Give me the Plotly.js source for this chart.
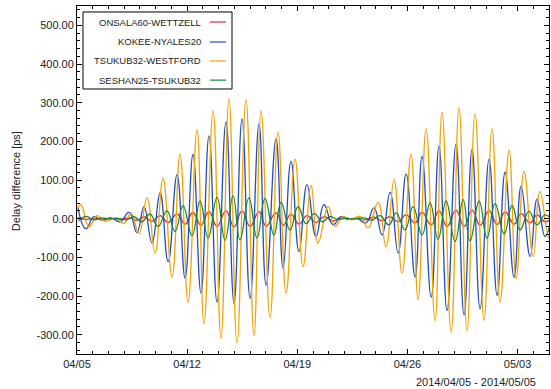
<!DOCTYPE html>
<html>
<head>
<meta charset="utf-8">
<script src="https://cdn.plot.ly/plotly-3.0.1.min.js"></script>
<style>html,body{margin:0;padding:0;background:#fff;}#chart{width:551px;height:389px;}</style>
</head>
<body>
<div id="chart"></div>
<script>
// ---- data (days since 2014-04-05 00:00, delay difference in ps; at the extremes) ----
const seriesNames = ["ONSALA60-WETTZELL", "KOKEE-NYALES20", "TSUKUB32-WESTFORD", "SESHAN25-TSUKUB32"];

const redDays = [0.06,0.57,1.08,1.59,2.16,2.73,3.31,3.81,4.26,4.77,5.28,5.79,6.36,6.87,7.37,7.88,8.39,8.90,9.47,9.98,10.49,11.00,11.57,12.02,12.65,13.10,13.60,14.11,14.62,15.19,15.70,16.27,16.78,17.29,17.80,18.37,18.88,19.39,19.90,20.41,20.92,21.49,21.93,22.51,23.01,23.52,24.09,24.60,25.11,25.62,26.19,26.70,27.21,27.78,28.23,28.80,29.24,29.75,30.26];
const redVals = [2,-2,1,-1,1,-2,2,-4,5,-7,8,-10,12,-14,16,-17,18,-20,20,-21,20,-20,18,-19,15,-17,11,-14,8,-10,5,-6,3,-2,2,-3,4,-5,5,-8,10,-11,17,-16,20,-20,22,-20,22,-17,21,-15,17,-14,13,-11,10,-8,6];

const blueDays = [0.06,0.57,1.08,1.59,2.16,2.73,3.31,3.81,4.26,4.77,5.28,5.79,6.36,6.87,7.37,7.88,8.39,8.90,9.47,9.98,10.49,11.00,11.57,12.02,12.65,13.10,13.60,14.11,14.62,15.19,15.70,16.27,16.78,17.29,17.80,18.37,18.88,19.39,19.90,20.41,20.92,21.49,21.93,22.51,23.01,23.52,24.09,24.60,25.11,25.62,26.19,26.70,27.21,27.78,28.23,28.80,29.24,29.75,30.26];
const blueVals = [28,-26,5,-4,2,-8,16,-36,31,-63,67,-111,114,-154,166,-192,214,-216,250,-219,258,-206,245,-172,206,-128,148,-85,88,-46,36,-16,5,-2,1,-11,28,-42,68,-89,115,-151,161,-203,188,-238,193,-249,180,-233,154,-198,120,-151,84,-98,50,-46,30];

const orangeDays = [0.00,0.25,0.76,1.27,1.78,2.42,2.99,3.43,3.94,4.45,4.96,5.47,6.04,6.55,7.06,7.63,8.07,8.65,9.15,9.66,10.17,10.74,11.25,11.70,12.27,12.78,13.29,13.86,14.37,14.88,15.32,15.96,16.40,16.91,17.42,17.99,18.50,19.14,19.64,20.15,20.66,21.23,21.68,22.19,22.76,23.20,23.78,24.28,24.79,25.30,25.87,26.38,26.89,27.46,27.91,28.42,28.99,29.43,30.01,30.45];
const orangeVals = [23,36,-22,8,-7,2,-12,14,-38,54,-89,104,-151,167,-216,230,-272,279,-310,310,-322,308,-303,279,-257,224,-193,154,-124,86,-63,31,-20,5,-3,6,-24,42,-73,101,-141,167,-209,232,-264,276,-294,288,-290,271,-263,232,-216,177,-155,122,-98,70,-50,30];

const greenDays = [0.06,0.57,1.08,1.59,2.10,2.61,3.12,3.62,4.13,4.64,5.15,5.72,6.23,6.74,7.31,7.82,8.33,8.90,9.41,9.92,10.36,10.93,11.44,11.95,12.52,12.97,13.54,14.05,14.56,15.07,15.58,16.08,16.59,17.10,17.67,18.25,18.75,19.26,19.83,20.28,20.85,21.36,21.93,22.44,22.95,23.46,24.03,24.54,24.98,25.56,26.06,26.57,27.15,27.65,28.16,28.73,29.24,29.75,30.26];
const greenVals = [-7,6,-3,2,-1,1,-3,5,-8,12,-20,20,-33,33,-44,45,-50,55,-56,59,-55,54,-50,52,-42,42,-29,31,-13,13,-8,5,-2,1,-1,2,-4,8,-16,15,-29,31,-42,41,-53,45,-59,49,-57,45,-50,39,-39,34,-29,19,-16,10,-8];

const xTickDays = [0, 7, 14, 21, 28];
const xTickLabels = ["04/05", "04/12", "04/19", "04/26", "05/03"];
const yTickVals = [-300, -200, -100, 0, 100, 200, 300, 400, 500];
const yTickLabels = ["-300.00", "-200.00", "-100.00", "0.00", "100.00", "200.00", "300.00", "400.00", "500.00"];
const periodText = "2014/04/05 - 2014/05/05";
const yTitle = "Delay difference [ps]";

// ---- styles ----
const seriesColors = ["#e3262b", "#1f4fc6", "#f5a300", "#178a3a"];
const FONT = "Liberation Sans, Arial, Helvetica, sans-serif";
const TXT = "#222";

const base = Date.UTC(2014, 3, 5);
const DAY = 864e5;
const toMs = arr => arr.map(d => base + d * DAY);

const allDays = [redDays, blueDays, orangeDays, greenDays];
const allVals = [redVals, blueVals, orangeVals, greenVals];

const traces = seriesNames.map((name, i) => ({
  type: "scatter", mode: "lines", name: name,
  x: toMs(allDays[i]), y: allVals[i],
  line: {color: seriesColors[i], width: 1.3, shape: "spline", smoothing: 1.3},
  showlegend: false, hoverinfo: "skip"
}));

// custom legend (text left, sample line right), in paper coordinates
const legX0 = 0.0127, legX1 = 0.3284, legY0 = 0.7615, legY1 = 0.9828;
const legTextX = 0.267, legLineX0 = 0.2818, legLineX1 = 0.3157;
const legRows = [0.954, 0.8966, 0.842, 0.787];

const shapes = [{type: "rect", xref: "paper", yref: "paper", x0: legX0, x1: legX1, y0: legY0, y1: legY1,
  line: {color: "#000", width: 1}, fillcolor: "#fff", layer: "above"}];
const annotations = [];
seriesNames.forEach((name, i) => {
  shapes.push({type: "line", xref: "paper", yref: "paper", x0: legLineX0, x1: legLineX1, y0: legRows[i], y1: legRows[i],
    line: {color: seriesColors[i], width: 1.2}, layer: "above"});
  annotations.push({xref: "paper", yref: "paper", x: legTextX, y: legRows[i], xanchor: "right", yanchor: "middle",
    text: name, showarrow: false, font: {family: FONT, size: 9.5, color: TXT}});
});
annotations.push({xref: "paper", yref: "paper", x: 0.977, y: -0.0805, xanchor: "right", yanchor: "middle",
  text: periodText, showarrow: false, font: {family: FONT, size: 11, color: TXT}});
annotations.push({xref: "paper", yref: "paper", x: -0.129, y: 0.497, xanchor: "center", yanchor: "middle",
  textangle: -90, text: yTitle, showarrow: false, font: {family: FONT, size: 11, color: TXT}});

const layout = {
  width: 551, height: 389,
  margin: {l: 77, r: 2, t: 6, b: 35},
  paper_bgcolor: "#fff", plot_bgcolor: "#fff",
  font: {family: FONT, size: 11, color: TXT},
  showlegend: false,
  xaxis: {
    type: "date", range: [base, base + 30 * DAY],
    tickmode: "array", tickvals: toMs(xTickDays), ticktext: xTickLabels,
    ticks: "inside", ticklen: 5, tickwidth: 1, tickcolor: "#000",
    minor: {ticks: "inside", ticklen: 3, tickwidth: 1, tickcolor: "#000", dtick: DAY, tick0: base, showgrid: false},
    showline: true, linecolor: "#000", linewidth: 1, mirror: "allticks",
    showgrid: false, zeroline: false,
    tickfont: {family: FONT, size: 11, color: TXT}
  },
  yaxis: {
    range: [-350, 550],
    tickmode: "array", tickvals: yTickVals, ticktext: yTickLabels,
    ticks: "inside", ticklen: 5, tickwidth: 1, tickcolor: "#000",
    minor: {ticks: "inside", ticklen: 3, tickwidth: 1, tickcolor: "#000", dtick: 20, tick0: 0, showgrid: false},
    showline: true, linecolor: "#000", linewidth: 1, mirror: "allticks",
    showgrid: false, zeroline: false,
    tickfont: {family: FONT, size: 11, color: TXT}
  },
  shapes: shapes,
  annotations: annotations
};

Plotly.newPlot("chart", traces, layout, {staticPlot: true, displayModeBar: false});
</script>
</body>
</html>
